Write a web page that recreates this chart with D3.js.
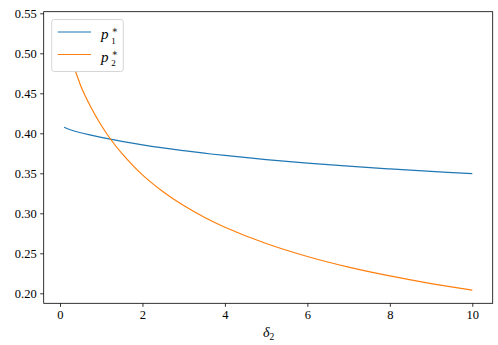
<!DOCTYPE html>
<html>
<head>
<meta charset="utf-8">
<script src="https://cdn.jsdelivr.net/npm/d3@7"></script>
<style>
  body { margin: 0; background: #fff; }
  text { font-family: "Liberation Serif", "DejaVu Serif", serif; fill: #000; }
</style>
</head>
<body>
<svg id="chart" width="498" height="345"></svg>
<script>
// delta_2 sample points
const delta2 = [0.1, 0.25, 0.5, 0.75, 1, 1.25, 1.5, 2, 2.5, 3, 3.5, 4, 5, 6, 7, 8, 9, 10];
const p1 = [0.4075, 0.4045, 0.4007, 0.3977, 0.3949, 0.3923, 0.3899, 0.3856, 0.3817, 0.3783, 0.3751, 0.3723, 0.3672, 0.3628, 0.3589, 0.3555, 0.3524, 0.3495];
const p2 = [0.535, 0.499, 0.4598, 0.4326, 0.410, 0.391, 0.375, 0.348, 0.327, 0.3097, 0.2951, 0.2826, 0.2622, 0.246, 0.2327, 0.2217, 0.2122, 0.204];
const xTicks = [0, 2, 4, 6, 8, 10];
const yTicks = [0.20, 0.25, 0.30, 0.35, 0.40, 0.45, 0.50, 0.55];
const seriesNames = ["1", "2"];
const colors = ["#1f77b4", "#ff7f0e"];

const svg = d3.select("#chart");
const mLeft = 43.7, mRight = 492.7, mTop = 11.7, mBottom = 303.3;

const x = d3.scaleLinear().domain([-0.395, 10.495]).range([mLeft, mRight]);
const y = d3.scaleLinear().domain([0.1875, 0.552]).range([mBottom, mTop]);

svg.append("clipPath").attr("id", "plotclip")
  .append("rect").attr("x", mLeft).attr("y", mTop)
  .attr("width", mRight - mLeft).attr("height", mBottom - mTop);

// lines
const line = d3.line()
  .x(d => x(d[0]))
  .y(d => y(d[1]))
  .curve(d3.curveCatmullRom);

[p1, p2].forEach((vals, i) => {
  svg.append("path")
    .datum(delta2.map((d, j) => [d, vals[j]]))
    .attr("clip-path", "url(#plotclip)")
    .attr("fill", "none")
    .attr("stroke", colors[i])
    .attr("stroke-width", 1.2)
    .attr("d", line);
});

// axes
const xAxis = svg.append("g")
  .attr("transform", `translate(0,${mBottom})`)
  .call(d3.axisBottom(x).tickValues(xTicks).tickSize(3.5).tickPadding(3.5).tickFormat(d3.format("d")));
const yAxis = svg.append("g")
  .attr("transform", `translate(${mLeft},0)`)
  .call(d3.axisLeft(y).tickValues(yTicks).tickSize(3.5).tickPadding(3.5).tickFormat(d3.format(".2f")));

[xAxis, yAxis].forEach(g => {
  g.attr("font-family", null);
  g.select(".domain").remove();
  g.selectAll(".tick line").attr("stroke", "#000").attr("stroke-width", 0.8);
  g.selectAll(".tick text").attr("font-size", 12.5);
});

// frame
svg.append("rect")
  .attr("x", mLeft).attr("y", mTop)
  .attr("width", mRight - mLeft).attr("height", mBottom - mTop)
  .attr("fill", "none").attr("stroke", "#000").attr("stroke-width", 0.8);

// x label: delta_2
const xl = svg.append("text")
  .attr("x", 263).attr("y", 337)
  .attr("font-size", 14).attr("font-style", "italic")
  .text("δ");
xl.append("tspan").attr("font-style", "normal").attr("font-size", 9.5)
  .attr("dy", 3).text("2");

// legend
const lg = svg.append("g");
lg.append("rect")
  .attr("x", 51.7).attr("y", 19.5).attr("width", 71.6).attr("height", 52)
  .attr("rx", 2.5)
  .attr("fill", "#fff")
  .attr("stroke", "#ccc").attr("stroke-width", 0.8);

seriesNames.forEach((name, i) => {
  const ly = 32 + i * 22.5;
  lg.append("line")
    .attr("x1", 57.7).attr("x2", 91).attr("y1", ly).attr("y2", ly)
    .attr("stroke", colors[i]).attr("stroke-width", 1.2);
  const t = lg.append("text").attr("x", 101).attr("y", ly + 7)
    .attr("font-size", 15).attr("font-style", "italic").text("p");
  t.append("tspan").attr("x", 111.5).attr("y", ly + 1.3)
    .attr("font-style", "normal").attr("font-size", 9.5).text("∗");
  t.append("tspan").attr("x", 111.3).attr("y", ly + 11.6)
    .attr("font-style", "normal").attr("font-size", 9).text(name);
});
</script>
</body>
</html>
